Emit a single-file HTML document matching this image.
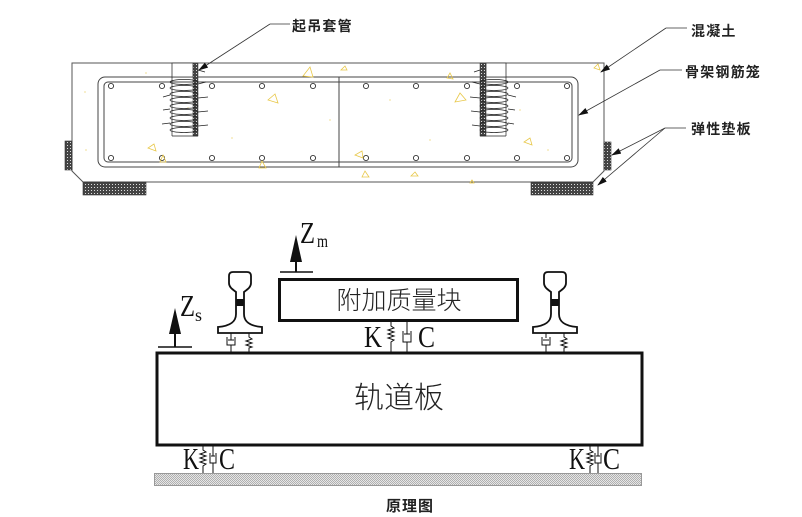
<!DOCTYPE html>
<html><head><meta charset="utf-8">
<style>
html,body{margin:0;padding:0;background:#fff;}
svg{display:block;}
.lbl{font-family:"Liberation Sans","Noto Sans CJK SC",sans-serif;font-size:14px;fill:#222;letter-spacing:1.2px;font-weight:bold;}
.ser{font-family:"Liberation Serif","Noto Serif CJK SC",serif;fill:#111;}
.cjk{font-family:"Liberation Sans","Noto Sans CJK SC",sans-serif;fill:#222;}
</style></head>
<body>
<svg width="802" height="517" viewBox="0 0 802 517" xmlns="http://www.w3.org/2000/svg">
<defs>
<pattern id="hat" width="3" height="3" patternUnits="userSpaceOnUse">
<rect width="3" height="3" fill="#444"/><rect x="1" y="1" width="1" height="1" fill="#ddd"/>
</pattern>
<pattern id="gnd" width="2" height="2" patternUnits="userSpaceOnUse">
<rect width="2" height="2" fill="#e6e6e6"/><rect width="1" height="1" fill="#b0b0b0"/><rect x="1" y="1" width="1" height="1" fill="#b0b0b0"/>
</pattern>
<marker id="ar" markerWidth="10" markerHeight="6" refX="9" refY="3" orient="auto" markerUnits="userSpaceOnUse">
<path d="M0,0 L10,3 L0,6 Z" fill="#111"/>
</marker>
</defs>

<!-- ===== TOP DRAWING ===== -->
<path d="M72,63 L604,63 L604,171 L593,182 L83,182 L72,171 Z" fill="none" stroke="#555" stroke-width="1"/>
<rect x="65" y="141" width="7" height="29" fill="url(#hat)" stroke="#333" stroke-width="0.6"/>
<rect x="83" y="182" width="63" height="13" fill="url(#hat)" stroke="#333" stroke-width="0.6"/>
<rect x="604" y="142" width="7" height="28" fill="url(#hat)" stroke="#333" stroke-width="0.6"/>
<rect x="531" y="182" width="62" height="13" fill="url(#hat)" stroke="#333" stroke-width="0.6"/>

<rect x="98" y="77" width="480" height="90" rx="7" fill="none" stroke="#444" stroke-width="1"/>
<rect x="104" y="82" width="468" height="80" rx="4" fill="none" stroke="#444" stroke-width="1"/>
<line x1="339" y1="77" x2="339" y2="167" stroke="#444" stroke-width="1"/>
<g fill="#fff" stroke="#333" stroke-width="0.9">
<circle cx="111" cy="86" r="2.6"/><circle cx="162" cy="86" r="2.6"/><circle cx="212" cy="86" r="2.6"/><circle cx="262" cy="86" r="2.6"/><circle cx="313" cy="86" r="2.6"/><circle cx="366" cy="86" r="2.6"/><circle cx="416" cy="86" r="2.6"/><circle cx="467" cy="86" r="2.6"/><circle cx="517" cy="86" r="2.6"/><circle cx="567" cy="86" r="2.6"/>
<circle cx="111" cy="158" r="2.6"/><circle cx="162" cy="158" r="2.6"/><circle cx="212" cy="158" r="2.6"/><circle cx="262" cy="158" r="2.6"/><circle cx="313" cy="158" r="2.6"/><circle cx="366" cy="158" r="2.6"/><circle cx="416" cy="158" r="2.6"/><circle cx="467" cy="158" r="2.6"/><circle cx="517" cy="158" r="2.6"/><circle cx="567" cy="158" r="2.6"/>
</g>
<g fill="none" stroke="#e8c84a" stroke-width="0.8">
<path d="M310,67 L303,76 L313,77 Z"/><path d="M345,66 L341,70 L347,70 Z"/><path d="M275,94 L268,100 L278,103 Z"/>
<path d="M154,144 L148,148 L156,151 Z"/><path d="M163,155 L160,162 L166,162 Z"/><path d="M262,161 L259,168 L266,168 Z"/>
<path d="M362,151 L355,155 L363,158 Z"/><path d="M365,171 L362,177 L369,177 Z"/><path d="M450,73 L447,78 L453,79 Z"/>
<path d="M460,93 L455,102 L466,100 Z"/><path d="M530,138 L524,142 L532,145 Z"/><path d="M415,172 L411,176 L418,176 Z"/>
<path d="M598,64 L594,68 L600,70 Z"/><path d="M472,180 L470,183 L474,183 Z"/>
</g>
<g fill="#e8c84a">
<circle cx="146" cy="73" r="0.6"/><circle cx="188" cy="108" r="0.6"/><circle cx="232" cy="138" r="0.6"/><circle cx="330" cy="120" r="0.6"/><circle cx="390" cy="100" r="0.6"/><circle cx="430" cy="140" r="0.6"/><circle cx="520" cy="110" r="0.6"/><circle cx="548" cy="150" r="0.6"/><circle cx="85" cy="92" r="0.6"/><circle cx="86" cy="150" r="0.6"/>
</g>

<!-- left sleeve -->
<rect x="193" y="63" width="5" height="73" fill="url(#hat)" stroke="#333" stroke-width="0.5"/>
<rect x="172" y="63" width="21" height="14" fill="#fff" stroke="#333" stroke-width="0.8"/>
<g fill="none" stroke="#222" stroke-width="0.7">
<line x1="172" y1="77" x2="172" y2="136"/><line x1="172" y1="136" x2="198" y2="136"/>
<ellipse cx="184" cy="82" rx="14" ry="2.5"/><ellipse cx="184" cy="88" rx="14" ry="2.5"/><ellipse cx="184" cy="94" rx="14" ry="2.5"/><ellipse cx="184" cy="100" rx="14" ry="2.5"/><ellipse cx="184" cy="106" rx="14" ry="2.5"/><ellipse cx="184" cy="112" rx="14" ry="2.5"/><ellipse cx="184" cy="118" rx="14" ry="2.5"/><ellipse cx="184" cy="124" rx="14" ry="2.5"/><ellipse cx="184" cy="130" rx="14" ry="2.5"/>
<path d="M198,84 L206,82 M198,98 L208,97 M198,112 L208,111 M198,126 L208,125 M170,95 L163,97 M170,109 L163,110 M170,123 L162,124 M198,70 L205,72"/>
</g>
<!-- right sleeve -->
<rect x="480" y="63" width="6" height="73" fill="url(#hat)" stroke="#333" stroke-width="0.5"/>
<rect x="486" y="63" width="20" height="14" fill="#fff" stroke="#333" stroke-width="0.8"/>
<g fill="none" stroke="#222" stroke-width="0.7">
<line x1="506" y1="77" x2="506" y2="136"/><line x1="480" y1="136" x2="506" y2="136"/>
<ellipse cx="494" cy="82" rx="14" ry="2.5"/><ellipse cx="494" cy="88" rx="14" ry="2.5"/><ellipse cx="494" cy="94" rx="14" ry="2.5"/><ellipse cx="494" cy="100" rx="14" ry="2.5"/><ellipse cx="494" cy="106" rx="14" ry="2.5"/><ellipse cx="494" cy="112" rx="14" ry="2.5"/><ellipse cx="494" cy="118" rx="14" ry="2.5"/><ellipse cx="494" cy="124" rx="14" ry="2.5"/><ellipse cx="494" cy="130" rx="14" ry="2.5"/>
<path d="M480,84 L472,82 M480,98 L470,97 M480,112 L471,111 M480,126 L472,125 M508,95 L516,97 M508,109 L515,110 M508,123 L514,124 M480,70 L474,72"/>
</g>

<!-- leaders -->
<g stroke="#333" stroke-width="0.8" fill="none">
<line x1="270" y1="24" x2="290" y2="24"/>
<line x1="270" y1="24" x2="199" y2="70" marker-end="url(#ar)"/>
<line x1="666" y1="28" x2="687" y2="28"/>
<line x1="666" y1="28" x2="601" y2="72" marker-end="url(#ar)"/>
<line x1="660" y1="70" x2="682" y2="70"/>
<line x1="660" y1="70" x2="579" y2="115" marker-end="url(#ar)"/>
<line x1="665" y1="128" x2="686" y2="128"/>
<line x1="665" y1="128" x2="612" y2="155" marker-end="url(#ar)"/>
<line x1="665" y1="128" x2="598" y2="185" marker-end="url(#ar)"/>
</g>
<text class="lbl" x="292" y="31">起吊套管</text>
<text class="lbl" x="691" y="36">混凝土</text>
<text class="lbl" x="685" y="77">骨架钢筋笼</text>
<text class="lbl" x="691" y="134">弹性垫板</text>

<!-- ===== BOTTOM DRAWING ===== -->
<path d="M296,235 L290,262 L302,262 Z" fill="#111"/>
<line x1="296" y1="262" x2="296" y2="272" stroke="#111" stroke-width="2"/>
<line x1="280" y1="272" x2="313" y2="272" stroke="#111" stroke-width="1.5"/>
<text class="ser" x="300" y="243" font-size="31" textLength="15" lengthAdjust="spacingAndGlyphs">Z</text>
<text class="ser" x="317" y="247" font-size="18" textLength="11" lengthAdjust="spacingAndGlyphs">m</text>
<path d="M175,308 L169,334 L181,334 Z" fill="#111"/>
<line x1="175" y1="334" x2="175" y2="347" stroke="#111" stroke-width="2"/>
<line x1="158" y1="347" x2="192" y2="347" stroke="#111" stroke-width="1.5"/>
<text class="ser" x="180" y="316" font-size="31" textLength="15" lengthAdjust="spacingAndGlyphs">Z</text>
<text class="ser" x="195" y="321" font-size="18" textLength="7" lengthAdjust="spacingAndGlyphs">s</text>

<rect x="279.5" y="279.5" width="238" height="41" fill="#fff" stroke="#111" stroke-width="3"/>
<text class="cjk" x="399" y="309" font-size="25" text-anchor="middle" style="font-weight:300">附加质量块</text>

<g fill="#fff" stroke="#111" stroke-width="1.8">
<path d="M236,292 C232,289 229,287 229,283 L229,276 Q229,272 233,272 L247,272 Q251,272 251,276 L251,283 C251,287 248,289 244,292 L244,314 C244,322 250,326 262,327 L262,333 L218,333 L218,327 C230,326 236,322 236,314 Z"/>
<path d="M551,292 C547,289 544,287 544,283 L544,276 Q544,272 548,272 L562,272 Q566,272 566,276 L566,283 C566,287 563,289 559,292 L559,314 C559,322 565,326 577,327 L577,333 L533,333 L533,327 C545,326 551,322 551,314 Z"/>
</g>
<rect x="236" y="299" width="8" height="7" fill="#111"/>
<rect x="551" y="299" width="8" height="7" fill="#111"/>

<g fill="none" stroke="#111" stroke-width="1">
<path d="M231,333 V338 M227,337 V345 H235 V337 M228,340 H234 M231,340 V338 M231,345 V352"/>
<path d="M249,333 V337 L252,339 L246,341 L252,343 L246,345 L252,347 L249,348 V352"/>
<path d="M546,333 V338 M542,337 V345 H550 V337 M543,340 H549 M546,345 V352"/>
<path d="M564,333 V337 L567,339 L561,341 L567,343 L561,345 L567,347 L564,348 V352"/>
<path d="M391,321 V326 L394,328 L388,330 L394,332 L388,334 L394,336 L388,338 L394,340 L391,342 V352"/>
<path d="M407,321 V334 M403,331 V342 H411 V331 M404,334 H410 M407,342 V352"/>
<path d="M203,446 V450 L206,452 L200,454 L206,456 L200,458 L206,460 L200,462 L206,464 L203,466 V473"/>
<path d="M213,446 V456 M210,453 V463 H216 V453 M211,456 H215 M213,463 V473"/>
<path d="M590,446 V450 L593,452 L587,454 L593,456 L587,458 L593,460 L587,462 L593,464 L590,466 V473"/>
<path d="M598,446 V456 M595,453 V463 H601 V453 M596,456 H600 M598,463 V473"/>
</g>
<text class="ser" x="364" y="347" font-size="31" textLength="18" lengthAdjust="spacingAndGlyphs">K</text>
<text class="ser" x="418" y="347" font-size="31" textLength="17" lengthAdjust="spacingAndGlyphs">C</text>
<text class="ser" x="183" y="469" font-size="31" textLength="16" lengthAdjust="spacingAndGlyphs">K</text>
<text class="ser" x="219" y="469" font-size="31" textLength="16" lengthAdjust="spacingAndGlyphs">C</text>
<text class="ser" x="569" y="469" font-size="31" textLength="16" lengthAdjust="spacingAndGlyphs">K</text>
<text class="ser" x="603" y="469" font-size="31" textLength="17" lengthAdjust="spacingAndGlyphs">C</text>

<rect x="157" y="353" width="485" height="92" fill="#fff" stroke="#111" stroke-width="3"/>
<text class="cjk" x="399" y="408" font-size="30" text-anchor="middle" style="font-weight:300">轨道板</text>

<rect x="154.5" y="473.5" width="487" height="12" fill="url(#gnd)" stroke="#999" stroke-width="1"/>

<text class="cjk" x="410" y="511" font-size="15" text-anchor="middle" style="font-weight:bold;letter-spacing:1px">原理图</text>
</svg>
</body></html>
